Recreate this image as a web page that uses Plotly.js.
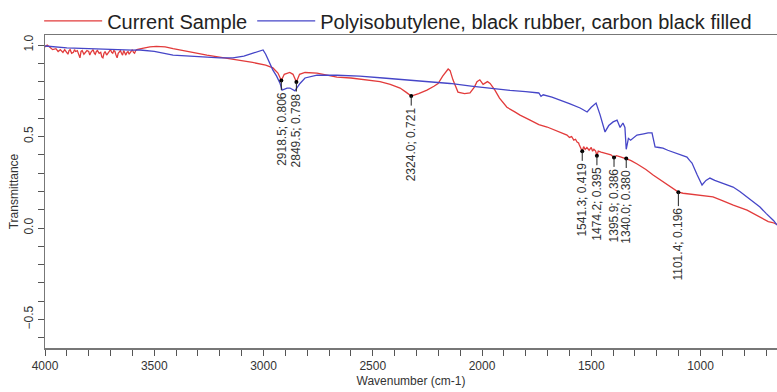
<!DOCTYPE html>
<html>
<head>
<meta charset="utf-8">
<script src="https://cdn.plot.ly/plotly-3.0.1.min.js"></script>
<style>html,body{margin:0;padding:0;background:#fff;}#chart{width:777px;height:392px;}</style>
</head>
<body>
<div id="chart"></div>
<script>
// Current Sample (red)
const sampleWn = [4000,3990,3975,3965,3950,3940,3930,3918,3910,3905,3895,3890,3885,3878,3870,3865,3860,3852,3845,3840,3835,3830,3822,3815,3808,3800,3795,3790,3784,3780,3774,3770,3765,3760,3752,3745,3740,3735,3730,3725,3718,3710,3705,3700,3695,3690,3685,3680,3675,3670,3665,3660,3655,3650,3645,3640,3635,3630,3625,3620,3615,3610,3605,3600,3595,3590,3585,3580,3560,3520,3490,3450,3414,3350,3259,3180,3108,3050,2990,2957,2934,2918.5,2905,2880,2865,2849.5,2835,2810,2755,2700,2664,2600,2520,2467,2420,2375,2345,2324,2290,2252,2220,2201,2180,2169,2155,2146,2133,2110,2080,2055,2035,2023,2010,1995,1975,1963,1941,1920,1900,1886,1850,1826,1780,1740,1702,1660,1630,1611,1600,1590,1580,1572,1565,1558,1555,1548,1541.3,1535,1528,1520,1510,1500,1494,1488,1480,1474.2,1468,1455,1440,1425,1410,1395.9,1385,1370,1355,1340,1320,1290,1250,1217,1180,1140,1101.4,1080,1040,990,943,900,850,787,750,714,690,670,660,650];
const sampleT = [0.99,1.0,0.985,0.975,0.98,0.965,0.975,0.96,0.975,0.965,0.95,0.97,0.975,0.955,0.96,0.975,0.965,0.97,0.94,0.93,0.965,0.97,0.95,0.96,0.97,0.965,0.945,0.96,0.97,0.975,0.955,0.95,0.965,0.97,0.955,0.96,0.935,0.93,0.955,0.965,0.945,0.96,0.97,0.975,0.96,0.955,0.97,0.965,0.945,0.93,0.955,0.96,0.97,0.955,0.945,0.97,0.96,0.945,0.96,0.965,0.95,0.96,0.97,0.975,0.96,0.955,0.97,0.975,0.98,0.99,0.993,0.99,0.98,0.965,0.945,0.93,0.918,0.905,0.89,0.875,0.847,0.806,0.84,0.85,0.84,0.798,0.84,0.85,0.847,0.835,0.825,0.82,0.81,0.80,0.785,0.765,0.74,0.721,0.735,0.754,0.775,0.79,0.83,0.847,0.869,0.86,0.81,0.743,0.735,0.738,0.77,0.80,0.81,0.785,0.80,0.79,0.754,0.71,0.68,0.66,0.635,0.617,0.59,0.565,0.552,0.53,0.515,0.508,0.495,0.50,0.48,0.485,0.47,0.465,0.455,0.44,0.419,0.445,0.43,0.44,0.425,0.44,0.42,0.43,0.42,0.395,0.42,0.415,0.41,0.405,0.40,0.386,0.395,0.39,0.385,0.38,0.37,0.35,0.32,0.29,0.26,0.225,0.196,0.19,0.185,0.178,0.17,0.15,0.125,0.098,0.075,0.05,0.035,0.03,0.025,0.02];

// Polyisobutylene, black rubber, carbon black filled (blue)
const refWn = [4000,3950,3900,3800,3700,3600,3565,3500,3414,3350,3259,3200,3140,3090,3048,3020,3002,2990,2979,2957,2940,2924,2915,2905,2892,2879,2865,2856,2845,2833,2810,2780,2755,2664,2560,2453,2350,2250,2146,2050,1960,1872,1800,1740,1730,1720,1680,1643,1600,1551,1530,1519,1500,1478,1460,1437,1420,1400,1382,1368,1355,1346,1340,1330,1320,1300,1291,1260,1240,1222,1215,1208,1190,1172,1150,1126,1100,1062,1050,1039,1015,993,975,957,935,911,880,851,820,787,760,728,700,682,665,650];
const refT = [0.995,0.99,0.985,0.98,0.975,0.972,0.973,0.965,0.945,0.94,0.934,0.93,0.93,0.94,0.956,0.968,0.973,0.95,0.92,0.863,0.83,0.79,0.754,0.76,0.765,0.765,0.754,0.75,0.77,0.79,0.82,0.83,0.836,0.835,0.83,0.82,0.81,0.80,0.79,0.775,0.762,0.752,0.745,0.738,0.72,0.728,0.715,0.70,0.68,0.656,0.64,0.634,0.66,0.683,0.62,0.525,0.56,0.58,0.59,0.55,0.574,0.55,0.43,0.49,0.48,0.50,0.508,0.515,0.52,0.52,0.48,0.443,0.44,0.437,0.425,0.415,0.40,0.388,0.37,0.355,0.29,0.235,0.26,0.273,0.26,0.25,0.235,0.224,0.2,0.17,0.145,0.115,0.08,0.06,0.04,0.016];

// Peak labels
const peakWn = [2918.5,2849.5,2324.0,1541.3,1474.2,1395.9,1340.0,1101.4];
const peakT = [0.806,0.798,0.721,0.419,0.395,0.386,0.380,0.196];

const xTickVals = [4000,3500,3000,2500,2000,1500,1000];
const yTickVals = [-0.5,0.0,0.5,1.0];

const traces = [
  {x: sampleWn, y: sampleT, type: 'scatter', mode: 'lines', name: 'Current Sample',
   line: {color: '#e23b3b', width: 1.3}},
  {x: refWn, y: refT, type: 'scatter', mode: 'lines', name: 'Polyisobutylene, black rubber, carbon black filled',
   line: {color: '#4646c8', width: 1.3}},
  {x: peakWn, y: peakT, type: 'scatter', mode: 'markers', showlegend: false,
   marker: {color: '#000', size: 4}}
];

const annotations = peakWn.map((w, i) => ({
  x: w, y: peakT[i], xref: 'x', yref: 'y',
  text: w.toFixed(1) + '; ' + peakT[i].toFixed(3),
  textangle: -90, showarrow: true, arrowhead: 0, arrowwidth: 1, arrowcolor: '#222',
  ax: 0, ay: (i === 7 ? 52 : 48),
  font: {family: 'Liberation Sans, Arial, sans-serif', size: 12, color: '#333'}
}));

const layout = {
  width: 777, height: 392,
  margin: {l: 45, r: 0, t: 35, b: 44},
  paper_bgcolor: '#fff', plot_bgcolor: '#fff',
  font: {family: 'Liberation Sans, Arial, sans-serif', color: '#333'},
  showlegend: true,
  legend: {orientation: 'h', x: -0.008, xanchor: 'left', y: 1.045, yanchor: 'middle',
    font: {size: 20, color: '#222'}, itemwidth: 58,
    bgcolor: 'rgba(0,0,0,0)'},
  xaxis: {range: [4000, 650], autorange: false, tickvals: xTickVals, ticktext: xTickVals.map(String),
    ticks: 'outside', ticklen: 6, tickcolor: '#555', showgrid: false, zeroline: false,
    showline: true, mirror: true, linecolor: '#777', linewidth: 1.5,
    minor: {dtick: 100, ticks: 'outside', ticklen: 6, tickcolor: '#555', showgrid: false},
    tickfont: {size: 12, color: '#333'},
    title: {text: 'Wavenumber (cm-1)', font: {size: 12, color: '#333'}, standoff: 4}},
  yaxis: {range: [-0.656, 1.055], autorange: false, tickvals: yTickVals, tickformat: '.1f',
    tickangle: -90, ticks: 'outside', ticklen: 6, tickcolor: '#555', showgrid: false, zeroline: false,
    showline: true, mirror: true, linecolor: '#777', linewidth: 1.5,
    minor: {dtick: 0.1, ticks: 'outside', ticklen: 6, tickcolor: '#555', showgrid: false},
    tickfont: {size: 12, color: '#333'},
    title: {text: 'Transmittance', font: {size: 12, color: '#333'}, standoff: 0}},
  annotations: annotations
};

Plotly.newPlot('chart', traces, layout, {displayModeBar: false, staticPlot: true});
</script>
</body>
</html>
